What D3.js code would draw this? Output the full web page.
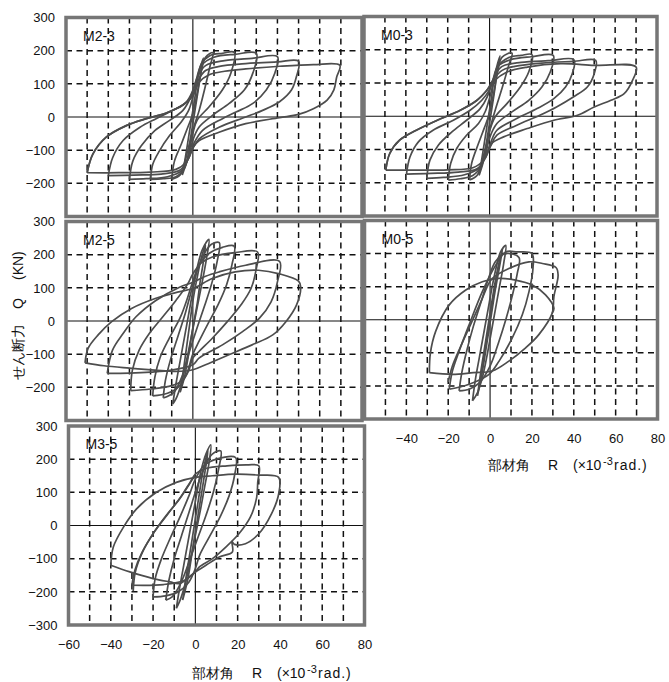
<!DOCTYPE html>
<html lang="ja">
<head>
<meta charset="UTF-8">
<title>せん断力 - 部材角 履歴曲線</title>
<script src="https://d3js.org/d3.v7.min.js"></script>
<style>
  body { margin: 0; background: #fff; }
  svg { display: block; font-family: "Liberation Sans", Arial, sans-serif; }
  .frame { fill: none; stroke: #767676; stroke-width: 3.5; }
  .grid { stroke: #111; stroke-width: 1.5; stroke-dasharray: 6 4.5; }
  .zero { stroke: #111; stroke-width: 1.1; }
  .loop { fill: none; stroke: #4d4d4d; stroke-width: 1.7; stroke-linejoin: round; }
  .name { font-size: 14px; fill: #111; }
  .title { font-size: 14px; fill: #111; }
</style>
</head>
<body>
<svg width="669" height="682"></svg>
<script>
// R (x10^-3 rad) , Q (kN)
const m23 = [
  [[-5,-175],[-3.5,-120],[-2,-60],[-0.5,0],[1,60],[2.5,125],[5,178],[3.5,120],[2,60],[0.5,0],[-1,-60],[-2.5,-125],[-5,-175]],
  [[-10,-188],[-8.7,-133],[-5.5,-82],[-2.4,-31],[0,10],[2,70],[4,140],[6,180],[9.5,194],[8,150],[5.5,82],[3,20],[0.5,-30],[-2,-90],[-4,-140],[-6,-175],[-10,-188]],
  [[-20,-188],[-19,-143],[-15.8,-102],[-11,-56],[-5.5,-15],[-2,20],[0,60],[2,110],[4,160],[8,185],[14,192],[19.6,195],[18,133],[14,82],[7.7,31],[2,-10],[0,-50],[-2,-110],[-4,-155],[-8,-180],[-14,-186],[-20,-188]],
  [[-30,-188],[-28.4,-133],[-24.4,-87],[-18,-41],[-11,-10],[-4.7,20],[-1,60],[1.5,110],[4,155],[10,180],[20,189],[30,192],[28.4,133],[24.4,82],[17.2,41],[9.3,5],[2.9,-31],[0,-70],[-2,-120],[-5,-160],[-12,-180],[-22,-186],[-30,-188]],
  [[-40,-177],[-37.9,-122],[-33,-71],[-25,-31],[-17.4,-5],[-9.5,20],[-3,46],[0,80],[2.5,125],[6,155],[15,170],[28,177],[40,182],[38.8,133],[34.8,82],[28.4,41],[20.4,15],[14,-5],[4.5,-41],[0.5,-80],[-2,-125],[-6,-160],[-15,-172],[-28,-175],[-40,-177]],
  [[-50,-168],[-47.3,-112],[-41,-61],[-31.5,-26],[-22,-5],[-12.6,12],[-4.7,36],[0,65],[2.5,110],[6,140],[12,152],[25,161],[40,166],[50,168],[49,122],[46.7,82],[41,46],[33,20],[25,0],[12.4,-31],[3,-66],[0,-95],[-3,-135],[-8,-158],[-20,-166],[-35,-168],[-50,-168]],
  [[-50,-168],[-47.3,-112],[-41,-61],[-31.5,-26],[-22,-5],[-12.6,12],[-4.7,36],[0,65],[3,105],[8,128],[15,138],[25,145],[41,153],[57,158],[69.5,156],[68,120],[66.7,82],[63.5,51],[57,25],[50,8],[41,-2],[25,-20],[12.4,-46],[3,-71],[0,-92],[-2,-120]]
];

const m03 = [
  [[-5,-178],[-3.5,-120],[-2,-60],[-0.5,0],[1,60],[2.5,125],[5,182],[3.5,125],[2,60],[0.5,0],[-1,-60],[-2.5,-125],[-5,-178]],
  [[-9.6,-192],[-8.5,-140],[-5.5,-85],[-2.5,-35],[0,10],[2,70],[4,140],[6,178],[10.7,190],[9,150],[6,85],[3,25],[0.5,-30],[-2,-95],[-4,-145],[-6,-178],[-9.6,-192]],
  [[-19.7,-192],[-18.6,-142],[-15.7,-97],[-11,-57],[-5.3,-22],[-2,15],[0,55],[2,105],[4,150],[9,176],[15,183],[20.3,185],[18.7,133],[14.7,88],[8.3,38],[2.7,-2],[0,-45],[-2,-105],[-4,-150],[-8,-178],[-14,-188],[-19.7,-192]],
  [[-30,-187],[-28.5,-132],[-24.5,-87],[-18,-47],[-11,-12],[-4.5,23],[-1,60],[1.5,108],[4,150],[10,170],[20,179],[30.4,183],[29,133],[25,88],[18.7,48],[10.7,13],[3.5,-22],[0,-65],[-2,-115],[-5,-155],[-12,-176],[-22,-184],[-30,-187]],
  [[-39.7,-174],[-38,-122],[-34,-77],[-27,-42],[-17.3,-12],[-9.3,18],[-3.7,48],[0,80],[2.5,122],[6,150],[15,162],[28,167],[40.3,170],[39.5,128],[36.3,88],[30.7,53],[22.7,23],[13,-7],[3.5,-42],[0.5,-80],[-2,-125],[-6,-158],[-15,-168],[-28,-172],[-39.7,-174]],
  [[-49.6,-162],[-47.7,-112],[-43,-72],[-35,-42],[-25,-12],[-14,18],[-6,48],[-1.3,78],[2,112],[6,138],[12,150],[25,160],[40,165],[50.7,168],[50,128],[46.7,88],[40,58],[32,28],[24,3],[13,-27],[3.5,-57],[0.5,-90],[-2.5,-130],[-8,-155],[-20,-161],[-35,-162],[-49.6,-162]],
  [[-49.6,-162],[-47.7,-112],[-43,-72],[-35,-42],[-25,-12],[-14,18],[-6,48],[-1.3,78],[2,105],[8.3,133],[18,148],[34,158],[50,153],[70,148],[68.3,108],[64.3,68],[58,48],[50,28],[42,3],[30.7,-12],[18,-37],[6.7,-62],[1,-82],[-1.5,-115]]
];

const m25 = [
  [[-6,-215],[-4.5,-150],[-3,-80],[-1.5,-10],[0,60],[2,130],[4,190],[6,230],[5,180],[3.5,120],[2,50],[0,-20],[-2,-100],[-4,-170],[-6,-215]],
  [[-9.5,-250],[-8,-190],[-6,-120],[-4,-50],[-2,20],[0,90],[2,160],[4.5,215],[7.6,246],[6.5,190],[4.5,120],[2,40],[-0.5,-40],[-3,-120],[-5.5,-190],[-8,-235],[-9.5,-250]],
  [[-14,-232],[-13,-180],[-10.5,-115],[-7,-45],[-3.5,25],[-0.5,95],[2.5,160],[6,210],[9,232],[12.5,236],[11.5,180],[9,115],[5.5,45],[1.5,-30],[-2,-100],[-5,-165],[-9,-215],[-14,-232]],
  [[-19,-226],[-18,-170],[-15.5,-110],[-11,-50],[-6,10],[-2.5,70],[0,120],[3,170],[8,205],[14,222],[19.5,226],[18.5,170],[16,110],[12,50],[7,-10],[3,-60],[0,-100],[-3,-160],[-7,-200],[-12,-218],[-19,-226]],
  [[-29.4,-210],[-28.6,-148],[-25.4,-88],[-20.6,-38],[-14.3,12],[-8,62],[-2.4,112],[0,142],[4,175],[9.2,193],[20,206],[30.6,208],[30,158],[27.5,98],[22.7,48],[16.3,-2],[9.2,-52],[2.9,-92],[0,-112],[-2,-150],[-5,-180],[-10,-195],[-20,-205],[-29.4,-210]],
  [[-40.5,-158],[-38,-88],[-33,-38],[-27,12],[-17.5,62],[-6.3,102],[0,117],[6,135],[12.4,148],[25,168],[41,180],[40,118],[37,58],[31.4,8],[23.5,-32],[14,-72],[2.9,-112],[0,-132],[-10,-148],[-20,-154],[-30,-157],[-40.5,-158]],
  [[-51,-126],[-49.5,-82],[-44.8,-42],[-38.4,-2],[-29,38],[-17.8,68],[-6.7,88],[0,98],[9.2,128],[20,148],[31,153],[41,142],[50,120],[51,103],[49,48],[44,-2],[37.8,-42],[28,-72],[17,-102],[6,-132],[0,-147],[-8,-152],[-18,-148],[-30,-142],[-42,-135],[-51,-126]]
];

const m05 = [
  [[-6,-230],[-4.5,-160],[-2.5,-80],[-0.5,0],[1.5,80],[3.5,150],[6,215],[4.5,160],[2.5,90],[0.5,10],[-1.5,-70],[-3.5,-150],[-6,-230]],
  [[-8.4,-245],[-7,-180],[-5,-110],[-3,-40],[-1,30],[1,100],[3,160],[5,205],[7.5,225],[6.5,170],[4.5,100],[2.5,30],[0.5,-40],[-1.5,-110],[-3.5,-170],[-6,-220],[-8.4,-245]],
  [[-14.8,-215],[-13.5,-160],[-11,-90],[-8,-20],[-4.5,50],[-1,120],[2.5,175],[7,200],[13.8,188],[13,140],[10.5,70],[7.5,0],[4,-70],[0,-140],[-5,-190],[-10,-210],[-14.8,-215]],
  [[-19.5,-210],[-18,-155],[-14.8,-95],[-10,-15],[-3.7,85],[2.7,165],[7.5,205],[13,205],[20,200],[20.5,155],[18.6,85],[15.4,15],[10.6,-55],[4.3,-125],[-0.5,-165],[-10,-195],[-19.5,-210]],
  [[-20,-188],[-18,-140],[-14,-80],[-9,-10],[-4,60],[-1,105],[1.1,125],[9,155],[18.6,175],[25,170],[31.5,158],[32.5,135],[30.5,70],[29.7,20],[23.3,-45],[17,-85],[9,-125],[1,-155],[-8,-160],[-18,-165],[-29,-160]],
  [[-29,-160],[-28.5,-100],[-26,-35],[-19.5,45],[-11.6,90],[-3.7,115],[4.3,125],[12.2,120],[20.2,105],[26.5,75],[30.5,35],[29.7,20]]
];

const m35 = [
  [[-6,-225],[-4.5,-160],[-2.5,-80],[-0.5,0],[1.5,80],[3.5,160],[6,225],[4.5,160],[2.5,80],[0.5,0],[-1.5,-80],[-3.5,-160],[-6,-225]],
  [[-9,-250],[-7.5,-190],[-5.5,-120],[-3.5,-50],[-1.5,20],[0.5,90],[2.5,160],[5,215],[7.3,243],[6.5,190],[4.5,120],[2.5,50],[0,-30],[-2.5,-110],[-5,-180],[-7.5,-230],[-9,-250]],
  [[-14,-225],[-12.5,-165],[-10,-100],[-6.5,-30],[-3,40],[0.5,110],[4,170],[8,215],[12,225],[11,170],[8.5,100],[5,30],[1,-40],[-3,-110],[-7,-175],[-11,-215],[-14,-225]],
  [[-20,-215],[-19,-160],[-16,-100],[-12,-40],[-7,30],[-3,90],[0,140],[4,180],[10,200],[19,205],[18.5,150],[16,90],[12,30],[7,-30],[2,-90],[0,-130],[-3,-170],[-8,-200],[-14,-212],[-20,-215]],
  [[-30,-180],[-28.6,-135],[-25.5,-85],[-20,-25],[-13.8,30],[-7.5,80],[-2.8,125],[0,155],[5,172],[15,180],[25,183],[30,180],[29.5,130],[29,85],[26,25],[20.6,-25],[14.4,-65],[8.1,-100],[1.9,-125],[0,-140],[-5,-165],[-15,-178],[-30,-180]],
  [[-29.4,-198],[-28.4,-140],[-25,-80],[-19.5,-20],[-13,35],[-7,85],[-2.5,130],[0,150]],
  [[-40,-120],[-38.8,-65],[-34,-5],[-27.8,50],[-18.4,100],[-9,130],[0,145],[8.1,150],[19,155],[30,152],[39.4,145],[39.4,95],[36,35],[30,-25],[23.7,-55],[18.5,-57],[17.3,-48],[17.5,-80],[11.3,-95],[5,-120],[0,-140],[-7.5,-175],[-12,-170],[-20,-160],[-31,-140],[-40,-120]]
];

const panelNames = ["M2-3", "M0-3", "M2-5", "M0-5", "M3-5"];
const panelLoops = [m23, m03, m25, m05, m35];
const gridR = [-50, -40, -30, -20, -10, 10, 20, 30, 40, 50, 60, 70];
const gridQ = [-200, -100, 100, 200];
const yTicksTop = [300, 200, 100, 0, -100, -200];
const yTicksBottom = [300, 200, 100, 0, -100, -200, -300];
const xTicksRight = [-40, -20, 0, 20, 40, 60, 80];
const xTicksBottom = [-60, -40, -20, 0, 20, 40, 60, 80];

// pixel boxes of the five frames
const boxes = [
  {x: [66, 362],   y: [216.5, 17.5], yTicks: yTicksTop},
  {x: [364, 657],  y: [216, 16.5]},
  {x: [66, 362],   y: [420.5, 221.5], yTicks: yTicksTop},
  {x: [364.5, 657.5], y: [419, 220.5], xTicks: xTicksRight},
  {x: [68.5, 364.5], y: [625, 426], yTicks: yTicksBottom, xTicks: xTicksBottom}
];

const svg = d3.select("svg");
svg.append("rect").attr("width", 669).attr("height", 682).attr("fill", "#fff");

panelNames.forEach((name, i) => {
  const b = boxes[i];
  const xs = d3.scaleLinear().domain([-60, 80]).range(b.x);
  const ys = d3.scaleLinear().domain([-300, 300]).range(b.y);
  const g = svg.append("g");

  g.append("clipPath").attr("id", "clip" + i)
    .append("rect")
    .attr("x", b.x[0]).attr("y", b.y[1])
    .attr("width", b.x[1] - b.x[0]).attr("height", b.y[0] - b.y[1]);

  g.selectAll("line.gx").data(gridR).join("line")
    .attr("class", "grid")
    .attr("x1", d => xs(d)).attr("x2", d => xs(d))
    .attr("y1", b.y[1]).attr("y2", b.y[0]);
  g.selectAll("line.gy").data(gridQ).join("line")
    .attr("class", "grid")
    .attr("x1", b.x[0]).attr("x2", b.x[1])
    .attr("y1", d => ys(d)).attr("y2", d => ys(d));

  g.append("line").attr("class", "zero")
    .attr("x1", xs(0)).attr("x2", xs(0)).attr("y1", b.y[1]).attr("y2", b.y[0]);
  g.append("line").attr("class", "zero")
    .attr("x1", b.x[0]).attr("x2", b.x[1]).attr("y1", ys(0)).attr("y2", ys(0));

  const line = d3.line()
    .x(d => xs(d[0]))
    .y(d => ys(d[1]))
    .curve(d3.curveCatmullRom.alpha(0.5));

  g.append("g").attr("clip-path", `url(#clip${i})`)
    .selectAll("path").data(panelLoops[i]).join("path")
    .attr("class", "loop")
    .attr("d", line);

  g.append("rect").attr("class", "frame")
    .attr("x", b.x[0]).attr("y", b.y[1])
    .attr("width", b.x[1] - b.x[0]).attr("height", b.y[0] - b.y[1]);

  g.append("text").attr("class", "name")
    .attr("x", b.x[0] + 17).attr("y", b.y[1] + 23)
    .text(name);

  if (b.yTicks) {
    const ax = g.append("g")
      .attr("transform", `translate(${b.x[0]},0)`)
      .call(d3.axisLeft(ys).tickValues(b.yTicks).tickSize(0).tickPadding(11));
    ax.select(".domain").remove();
    ax.attr("font-family", null).attr("font-size", null);
    ax.selectAll("text").attr("font-size", 13).attr("fill", "#111");
  }
  if (b.xTicks) {
    const ax = g.append("g")
      .attr("transform", `translate(0,${b.y[0]})`)
      .call(d3.axisBottom(xs).tickValues(b.xTicks).tickSize(0).tickPadding(15));
    ax.select(".domain").remove();
    ax.attr("font-family", null).attr("font-size", null);
    ax.selectAll("text").attr("font-size", 13).attr("fill", "#111");
  }
});

// x axis titles
function xTitle(x0, y) {
  const t = svg.append("text").attr("class", "title").attr("y", y);
  t.append("tspan").attr("x", x0).text("部材角");
  t.append("tspan").attr("x", x0 + 60).text("R");
  t.append("tspan").attr("x", x0 + 85).text("(×10");
  t.append("tspan").attr("x", x0 + 115).attr("dy", -5).attr("font-size", 11).text("-3");
  t.append("tspan").attr("x", x0 + 126).attr("dy", 5).attr("letter-spacing", 1).text("rad.)");
}
xTitle(488, 470);
xTitle(192, 678);

// y axis title
const yt = svg.append("text").attr("class", "title")
  .attr("transform", "translate(23,380) rotate(-90)");
yt.append("tspan").attr("x", 0).text("せん断力");
yt.append("tspan").attr("x", 71).text("Q");
yt.append("tspan").attr("x", 100).text("(KN)");
</script>
</body>
</html>
